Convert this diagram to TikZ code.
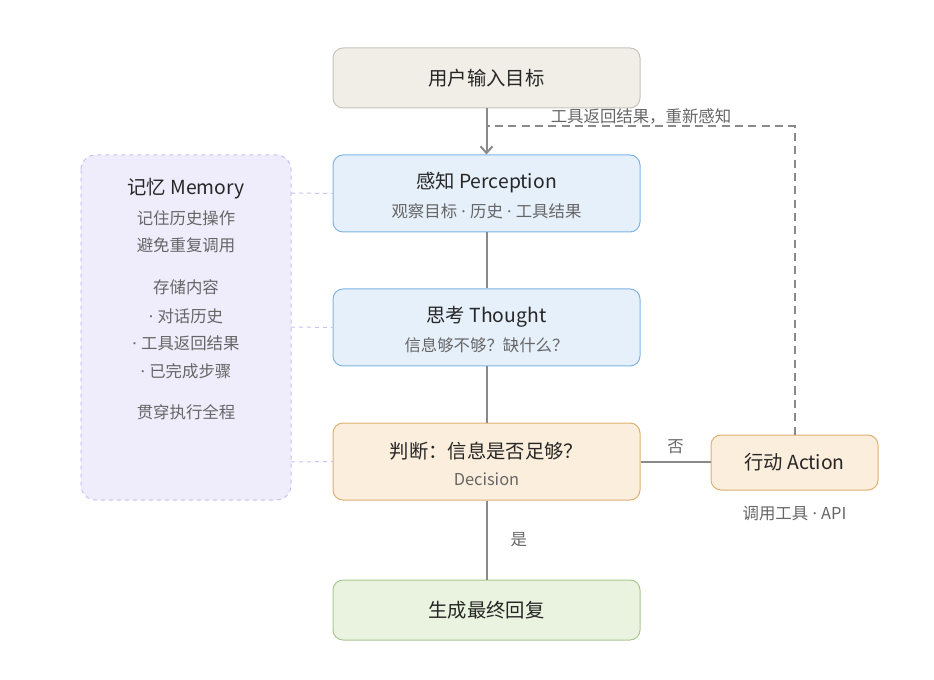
\documentclass[tikz,border=0pt]{standalone}
\usepackage{fontspec}
\setmainfont{Noto Sans CJK SC}
\newfontfamily\latinfont{Noto Sans}
\newcommand{\mdot}{{\latinfont\ ·\ }}
\usetikzlibrary{arrows.meta}
\definecolor{inputfill}{HTML}{F1EEE7}
\definecolor{inputline}{HTML}{C8C4BC}
\definecolor{bluefill}{HTML}{E6F0FB}
\definecolor{blueline}{HTML}{80B4E8}
\definecolor{orangefill}{HTML}{FBEEDC}
\definecolor{orangeline}{HTML}{E0B070}
\definecolor{greenfill}{HTML}{E9F3DF}
\definecolor{greenline}{HTML}{A8C890}
\definecolor{memfill}{HTML}{EFEDFC}
\definecolor{memline}{HTML}{C8C0F0}
\definecolor{linkgray}{HTML}{8A8A8A}
\definecolor{subgray}{HTML}{666666}
\tikzset{every picture/.style={line width=0.75pt}}

\begin{document}
\begin{tikzpicture}[x=0.75pt,y=0.75pt,yscale=-1,xscale=1,
    stagebox/.style={rounded corners=7.5pt,minimum width=230.25pt,align=center,inner sep=0pt},
    titletext/.style={font=\fontsize{14.5}{17}\selectfont,text=black!85},
    subtext/.style={font=\fontsize{12.3}{15}\selectfont,text=subgray},
    flow/.style={draw=linkgray,line width=1.5pt},
    memlink/.style={draw=memline,dashed,line width=0.75pt}]
    \useasboundingbox (0,0) rectangle (934,680);

    %Memory panel
    \draw [fill=memfill,draw=memline,dashed,rounded corners=11pt] (81,155) rectangle (291,500);
    \node (memtitle) [titletext] at (186,189) {记忆 Memory};
    \node (mem1) [subtext] at (186,218) {记住历史操作};
    \node (mem2) [subtext] at (186,245) {避免重复调用};
    \node (mem3) [subtext] at (186,287) {存储内容};
    \node (mem4) [subtext] at (186,316) {{\latinfont·\ }对话历史};
    \node (mem5) [subtext] at (186,343) {{\latinfont·\ }工具返回结果};
    \node (mem6) [subtext] at (186,371) {{\latinfont·\ }已完成步骤};
    \node (mem7) [subtext] at (186,412) {贯穿执行全程};

    %Stages
    \node (input) [stagebox,fill=inputfill,draw=inputline,minimum height=45pt] at (486.5,78) {};
    \node [titletext] at (input.center) {用户输入目标};
    \node (percep) [stagebox,fill=bluefill,draw=blueline,minimum height=57.75pt] at (486.5,193.5) {};
    \node [titletext] at (486.5,183) {感知 Perception};
    \node [subtext] at (486.5,211) {观察目标\mdot 历史\mdot 工具结果};
    \node (thought) [stagebox,fill=bluefill,draw=blueline,minimum height=57.75pt] at (486.5,327.5) {};
    \node [titletext] at (486.5,317) {思考 Thought};
    \node [subtext] at (486.5,345) {信息够不够？缺什么？};
    \node (decide) [stagebox,fill=orangefill,draw=orangeline,minimum height=57.75pt] at (486.5,461.5) {};
    \node [titletext] at (486.5,451) {判断：信息是否足够？};
    \node [subtext] at (486.5,479) {Decision};
    \node (final) [stagebox,fill=greenfill,draw=greenline,minimum height=45pt] at (486.5,610) {};
    \node [titletext] at (final.center) {生成最终回复};
    \node (action) [stagebox,fill=orangefill,draw=orangeline,minimum width=125.25pt,minimum height=41.25pt] at (794.5,462.5) {};
    \node [titletext] at (action.center) {行动 Action};
    \node (actsub) [subtext] at (794.5,513) {调用工具\mdot API};

    %Flow
    \draw [flow,-{Straight Barb[length=5pt,width=9pt]}] (input.south) -- (percep.north);
    \draw [flow] (percep.south) -- (thought.north);
    \draw [flow] (thought.south) -- (decide.north);
    \draw [flow] (decide.south) -- node [right=14pt,subtext] {是} (final.north);
    \draw [flow] (decide.east) -- node [above=2pt,subtext] {否} (decide.east -| action.west);
    \coordinate (backcorner) at (action.north |- 0,126);
    \coordinate (backjoin) at (487,126);
    \draw [flow,dashed,dash pattern=on 6pt off 4pt] (action.north) -- (backcorner) -- (backjoin);
    \node (backlabel) [subtext] at (641,116) {工具返回结果，重新感知};

    %Memory links
    \draw [memlink] (291,193) -- (percep.west);
    \draw [memlink] (291,327) -- (thought.west);
    \draw [memlink] (291,462) -- (decide.west);
\end{tikzpicture}
\end{document}
